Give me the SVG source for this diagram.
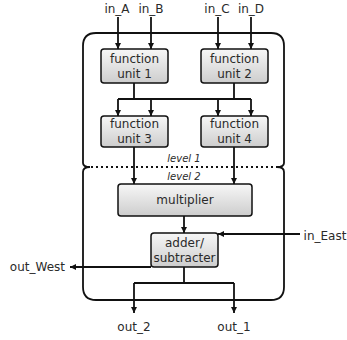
<svg xmlns="http://www.w3.org/2000/svg" width="347" height="340" viewBox="0 0 347 340">
<style>
text{font-family:"DejaVu Sans","Liberation Sans",sans-serif;font-size:12px;fill:#2a2a2a;text-anchor:middle}
.lv{font-size:10px;font-style:italic}
.box{stroke:#111;stroke-width:1.5;fill:url(#g)}
.outer{fill:none;stroke:#111;stroke-width:1.8}
.ln{fill:none;stroke:#111;stroke-width:1.8}
.ar{fill:none;stroke:#111;stroke-width:1.8;marker-end:url(#ah)}
</style>
<defs>
<linearGradient id="g" x1="0" y1="0" x2="0" y2="1">
<stop offset="0" stop-color="#f7f7f7"/>
<stop offset="1" stop-color="#cdcdcd"/>
</linearGradient>
<marker id="ah" viewBox="0 0 10 10" refX="10" refY="5" markerWidth="6" markerHeight="6" markerUnits="userSpaceOnUse" orient="auto">
<path d="M0,0 L10,5 L0,10 z" fill="#111"/>
</marker>
</defs>
<g id="level1">
<path class="outer" d="M83,163 V46 Q83,33 96,33 H271 Q284,33 284,46 V163"/>
<path class="outer" d="M83,163 Q83,167 90,167 M284,163 Q284,167 277,167"/>
<line x1="91" y1="167" x2="277" y2="167" stroke="#111" stroke-width="1.8" stroke-dasharray="2,3"/>
<text class="lv" x="184" y="162">level 1</text>
</g>
<g id="level2">
<path class="outer" d="M90,167 Q83,167 83,172 V287 Q83,300 96,300 H271 Q284,300 284,287 V172 Q284,167 277,167"/>
<text class="lv" x="184" y="180">level 2</text>
</g>
<g id="fu1"><rect class="box" x="101" y="49" width="67" height="34" rx="3"/><text x="134.5" y="63">function</text><text x="134.5" y="78">unit 1</text></g>
<g id="fu2"><rect class="box" x="201" y="49" width="67" height="34" rx="3"/><text x="234.5" y="63">function</text><text x="234.5" y="78">unit 2</text></g>
<g id="fu3"><rect class="box" x="101" y="116" width="67" height="31" rx="3"/><text x="134.5" y="128">function</text><text x="134.5" y="143">unit 3</text></g>
<g id="fu4"><rect class="box" x="201" y="116" width="67" height="31" rx="3"/><text x="234.5" y="128">function</text><text x="234.5" y="143">unit 4</text></g>
<g id="multiplier"><rect class="box" x="118" y="184" width="134" height="32" rx="3"/><text x="185" y="204">multiplier</text></g>
<g id="adder"><rect class="box" x="151" y="233" width="67" height="34" rx="3"/><text x="184.5" y="247">adder/</text><text x="184.5" y="262">subtracter</text></g>
<g id="labels">
<text x="117" y="13">in_A</text>
<text x="151" y="13">in_B</text>
<text x="217" y="13">in_C</text>
<text x="251" y="13">in_D</text>
<text x="325" y="240">in_East</text>
<text x="65" y="271" style="text-anchor:end">out_West</text>
<text x="134" y="331">out_2</text>
<text x="234" y="331">out_1</text>
</g>
<g id="connectors">
<line class="ar" x1="118" y1="17" x2="118" y2="49"/>
<line class="ar" x1="151" y1="17" x2="151" y2="49"/>
<line class="ar" x1="218" y1="17" x2="218" y2="49"/>
<line class="ar" x1="251" y1="17" x2="251" y2="49"/>
<path class="ln" d="M134,83 V99 M234,83 V99 M118,99 H251"/>
<line class="ar" x1="118" y1="99" x2="118" y2="116"/>
<line class="ar" x1="151" y1="99" x2="151" y2="116"/>
<line class="ar" x1="218" y1="99" x2="218" y2="116"/>
<line class="ar" x1="251" y1="99" x2="251" y2="116"/>
<line class="ar" x1="134" y1="147" x2="134" y2="184"/>
<line class="ar" x1="234" y1="147" x2="234" y2="184"/>
<line class="ar" x1="184" y1="216" x2="184" y2="233"/>
<line class="ar" x1="300" y1="234" x2="218" y2="234"/>
<line class="ar" x1="151" y1="267" x2="70" y2="267"/>
<path class="ln" d="M184,267 V283 M134,283 H234"/>
<line class="ar" x1="134" y1="283" x2="134" y2="313"/>
<line class="ar" x1="234" y1="283" x2="234" y2="313"/>
</g>
</svg>
